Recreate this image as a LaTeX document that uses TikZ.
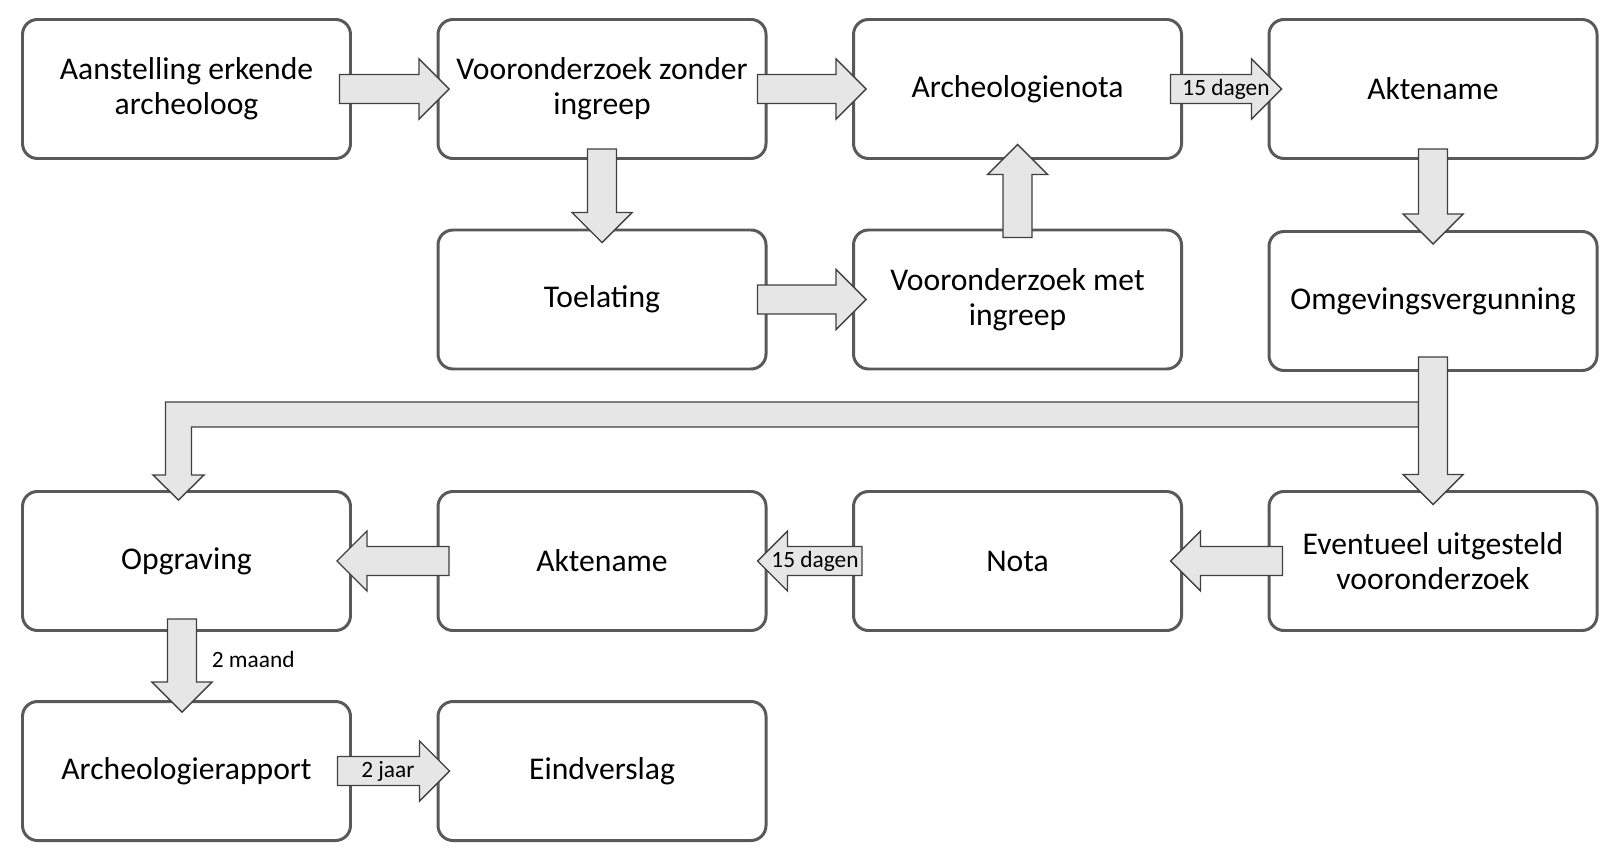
\documentclass[tikz,border=0pt]{standalone}
\usepackage{fontspec}
\setmainfont{Carlito}
\usetikzlibrary{calc}
\definecolor{randgrijs}{HTML}{595959}
\definecolor{pijlvul}{HTML}{E7E6E6}
\definecolor{pijlrand}{HTML}{404040}
\newcommand\schacht{0.29cm}
\newcommand\kopb{0.6cm}
\newcommand\kop{0.6cm}
% block arrow from #1 to #2 (leaves coordinates s, t behind)
\newcommand\blokpijl[2]{%
  \coordinate (s) at #1;
  \coordinate (t) at #2;
  \coordinate (hb) at ($(t)!\kop!(s)$);
  \draw[pijl] ($(s)!\schacht!90:(t)$) -- ($(hb)!\schacht!90:(t)$) -- ($(hb)!\kopb!90:(t)$)
    -- (t) -- ($(hb)!\kopb!-90:(t)$) -- ($(hb)!\schacht!-90:(t)$) -- ($(s)!\schacht!-90:(t)$) -- cycle;}
\tikzset{
  stap/.style={draw=randgrijs, line width=1.7pt, rounded corners=0.3cm, fill=white,
    minimum width=6.56cm, minimum height=2.78cm, align=center,
    font=\fontsize{18}{20}\selectfont},
  pijl/.style={draw=pijlrand, fill=pijlvul, line width=0.8pt, line join=miter},
  pijltekst/.style={font=\fontsize{13.3}{15}\selectfont, inner sep=0pt}
}
\begin{document}
\begin{tikzpicture}

  \newcommand\X{8.31cm}
  \useasboundingbox (0,0) rectangle (32.34,-17.24);

  % rij 1
  \node[stap] (aanst) at (3.73cm, -1.78cm) {Aanstelling erkende\\archeoloog};
  \node[stap] (vzonder) at (3.73cm+\X, -1.78cm) {Vooronderzoek zonder\\ingreep};
  \node[stap] (nota1) at (3.73cm+2*\X, -1.78cm) {Archeologienota};
  \node[stap] (akte1) at (3.73cm+3*\X, -1.78cm) {Aktename};
  % rij 2
  \node[stap] (toel) at (3.73cm+\X, -5.99cm) {Toelating};
  \node[stap] (vmet) at (3.73cm+2*\X, -5.99cm) {Vooronderzoek met\\ingreep};
  \node[stap] (omgev) at (3.73cm+3*\X, -6.02cm) {Omgevingsvergunning};
  % rij 3
  \node[stap] (opgr) at (3.73cm, -11.22cm) {Opgraving};
  \node[stap] (akte2) at (3.73cm+\X, -11.22cm) {Aktename};
  \node[stap] (nota2) at (3.73cm+2*\X, -11.22cm) {Nota};
  \node[stap] (uitg) at (3.73cm+3*\X, -11.22cm) {Eventueel uitgesteld\\vooronderzoek};
  % rij 4
  \node[stap] (rapp) at (3.73cm, -15.42cm) {Archeologierapport};
  \node[stap] (eind) at (3.73cm+\X, -15.42cm) {Eindverslag};

  \blokpijl{($(aanst.east)+(-0.25,0)$)}{($(vzonder.west)+(0.25,0)$)}
  \blokpijl{($(vzonder.east)+(-0.2,0)$)}{($(nota1.west)+(0.28,0)$)}
  \blokpijl{($(nota1.east)+(-0.25,0)$)}{($(akte1.west)+(0.28,0)$)}
  \node[pijltekst] (dagen1) at ($(s)!0.5!(t)$) {15 dagen};

  \blokpijl{($(vzonder.south)+(0,0.22)$)}{($(toel.north)+(0,-0.28)$)}
  \blokpijl{($(toel.east)+(-0.2,0)$)}{($(vmet.west)+(0.28,0)$)}
  \blokpijl{($(vmet.north)+(0,-0.18)$)}{($(nota1.south)+(0,0.31)$)}
  \blokpijl{($(akte1.south)+(0,0.22)$)}{($(omgev.north)+(0,-0.28)$)}

  % gesplitste pijl naar opgraving
  \coordinate (lt) at ($(opgr.north)+(-0.16,-0.2)$);
  \coordinate (lhb) at ($(lt)+(0,0.5)$);
  \coordinate (bt) at (0,-8.04);
  \coordinate (bb) at (0,-8.54);
  \coordinate (rsl) at ($(omgev.south)+(-0.29,0)$);
  \coordinate (lsl) at ($(lt)+(-0.26,0)$);
  \coordinate (lsr) at ($(lt)+(0.26,0)$);
  \draw[pijl] (rsl |- bt) -- (lsl |- bt) -- (lsl |- lhb) -- ($(lhb)+(-0.51,0)$) -- (lt)
    -- ($(lhb)+(0.51,0)$) -- (lsr |- lhb) -- (lsr |- bb) -- (rsl |- bb) -- cycle;
  \blokpijl{($(omgev.south)+(0,0.3)$)}{($(uitg.north)+(0,-0.29)$)}

  \blokpijl{($(uitg.west)+(0.3,0)$)}{($(nota2.east)+(-0.25,0)$)}
  \blokpijl{($(nota2.west)+(0.2,0)$)}{($(akte2.east)+(-0.2,0)$)}
  \node[pijltekst] (dagen2) at ($(s)!0.45!(t)$) {15 dagen};
  \blokpijl{($(akte2.west)+(0.25,0)$)}{($(opgr.east)+(-0.3,0)$)}

  \blokpijl{($(opgr.south)+(-0.09,0.26)$)}{($(rapp.north)+(-0.09,-0.24)$)}
  \node[pijltekst, anchor=west] (maand) at ($(s)!0.43!(t)+(0.59,0)$) {2 maand};
  \blokpijl{($(rapp.east)+(-0.29,0)$)}{($(eind.west)+(0.26,0)$)}
  \node[pijltekst] (jaar) at ($(s)!0.45!(t)$) {2 jaar};

\end{tikzpicture}
\end{document}
